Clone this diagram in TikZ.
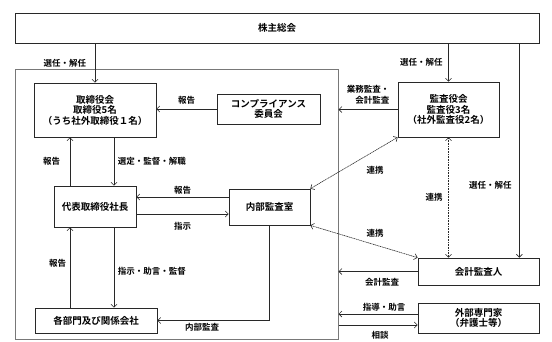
\documentclass[tikz,border=0pt]{standalone}
\usepackage{fontspec}
\setmainfont{Noto Sans CJK JP}[BoldFont={Noto Sans CJK JP Bold}]
\usetikzlibrary{arrows.meta,positioning}
\definecolor{linegray}{RGB}{40,40,40}
\definecolor{framegray}{RGB}{120,120,120}
\newcommand\boxfnt{\bfseries\fontsize{9.5}{10.5}\selectfont}
\newcommand\lblfnt{\bfseries\fontsize{8.5}{11}\selectfont}

\begin{document}
\begin{tikzpicture}[x=1pt, y=-1pt, >={Straight Barb[length=3pt,width=6pt]},
    box/.style={draw=linegray, line width=0.7pt, align=center, inner sep=0pt, font=\boxfnt},
    lbl/.style={font=\lblfnt, text=black, inner sep=1.5pt},
    link/.style={draw=linegray, line width=0.6pt}]
  \useasboundingbox (0,0) rectangle (552,341);
  \node[draw=framegray, line width=1pt, minimum width=323pt, minimum height=270pt] (co) at (176.5,204) {};
  \node[box, minimum width=524pt, minimum height=30pt] (sh) at (277,28) {株主総会};
  \node[box, minimum width=122pt, minimum height=54pt] (bod) at (95,110)
        {取締役会\\取締役5名\\（うち社外取締役１名）};
  \node[box, minimum width=103pt, minimum height=30pt] (comp) at (268.5,109) {コンプライアンス\\委員会};
  \node[box, minimum width=101pt, minimum height=55pt] (kansa) at (448.5,109.5)
        {監査役会\\監査役3名\\（社外監査役2名）};
  \node[box, minimum width=82pt, minimum height=41pt] (ceo) at (95,206.5) {代表取締役社長};
  \node[box, minimum width=81pt, minimum height=36pt] (audit) at (269.5,207) {内部監査室};
  \node[box, minimum width=122pt, minimum height=25pt] (dept) at (96,320.5) {各部門及び関係会社};
  \node[box, minimum width=121pt, minimum height=27pt] (acc) at (478.5,271.5) {会計監査人};
  \node[box, minimum width=121pt, minimum height=30pt] (expert) at (478.5,318) {外部専門家\\（弁護士等）};
  \coordinate (accsel) at ([xshift=-20pt]acc.north east);

  \draw[link,->] (bod.north |- sh.south) -- (bod.north) node[lbl, midway, left=7pt] {選任・解任};
  \draw[link,->] (kansa.north |- sh.south) -- (kansa.north) node[lbl, midway, left=4pt] {選任・解任};
  \draw[link,->] (accsel |- sh.south) -- (accsel) node[lbl, pos=0.66, left=6pt] {選任・解任};
  \draw[link,->] (comp.west) -- (comp.west -| bod.east) node[lbl, midway, above=3pt] {報告};
  \draw[link,->] (kansa.west) -- (kansa.west -| co.east)
        node[lbl, midway, above=3pt, align=right] {業務監査・\\会計監査};
  \draw[link,->] ([xshift=19pt]bod.south) -- ([xshift=19pt]bod.south |- ceo.north)
        node[lbl, midway, right=2pt] {選定・監督・解職};
  \draw[link,->] ([xshift=-25pt]bod.south |- ceo.north) -- ([xshift=-25pt]bod.south)
        node[lbl, midway, left=8pt] {報告};
  \draw[link,->] ([yshift=10pt]audit.west) -- ([yshift=10pt]audit.west -| ceo.east)
        node[lbl, midway, above=0.5pt] {報告};
  \draw[link,->] ([yshift=-7.5pt]ceo.east) -- ([yshift=-7.5pt]ceo.east -| audit.west)
        node[lbl, midway, below=6pt] {指示};
  \draw[link,->] ([xshift=19pt]ceo.south) -- ([xshift=19pt]ceo.south |- dept.north)
        node[lbl, pos=0.55, right=2pt] {指示・助言・監督};
  \draw[link,->] ([xshift=-25pt]ceo.south |- dept.north) -- ([xshift=-25pt]ceo.south)
        node[lbl, pos=0.55, left=2pt] {報告};
  \draw[link,->] (audit.south) |- (dept.east) node[lbl, pos=0.8, below=0.5pt] {内部監査};
  \draw[link,->] (acc.west) -- (acc.west -| co.east) node[lbl, midway, below=5pt, xshift=4pt] {会計監査};
  \draw[link,->] ([yshift=4pt]expert.west) -- ([yshift=4pt]expert.west -| co.east)
        node[lbl, midway, above=1pt, xshift=6pt] {指導・助言};
  \draw[link,->] ([yshift=-7pt]expert.west -| co.east) -- ([yshift=-7pt]expert.west)
        node[lbl, midway, below=4pt, xshift=2pt] {相談};
  \draw[link,<->,densely dotted] (kansa.south) -- (kansa.south |- acc.north)
        node[lbl, midway, left=4pt] {連携};
  \draw[link,<->,dash pattern=on 1.2pt off 0.6pt] (audit.north east) -- (kansa.south west)
        node[lbl, midway, xshift=21pt, yshift=-7pt] {連携};
  \draw[link,<->,dash pattern=on 1.2pt off 0.6pt] (audit.south east) -- (acc.north west)
        node[lbl, midway, xshift=11pt, yshift=8.5pt] {連携};
\end{tikzpicture}
\end{document}
